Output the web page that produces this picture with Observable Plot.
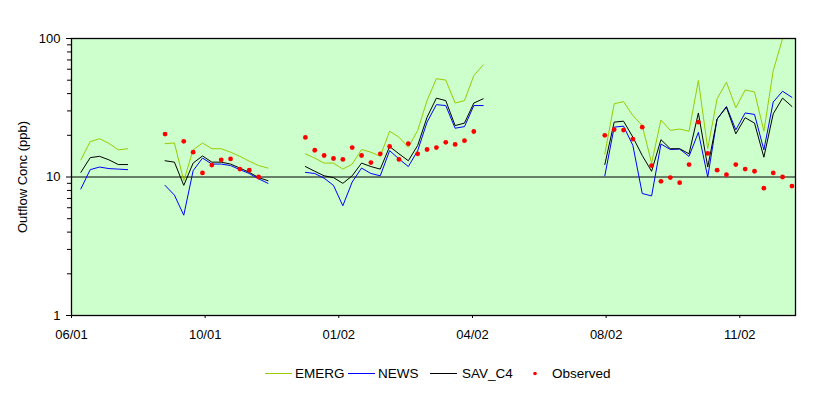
<!DOCTYPE html>
<html>
<head>
<meta charset="utf-8">
<script src="https://cdn.jsdelivr.net/npm/d3@7"></script>
<script src="https://cdn.jsdelivr.net/npm/@observablehq/plot@0.6"></script>
<style>
  html, body { margin: 0; padding: 0; background: #fff; }
  body { width: 829px; height: 396px; position: relative; font-family: "Liberation Sans", Arial, sans-serif; }
  #legend { position: absolute; left: 0; top: 364px; width: 829px; height: 20px; font-size: 13.5px; color: #000; }
  #legend .sw { position: absolute; top: 0; }
  #legend .tx { position: absolute; top: 1px; line-height: 18px; white-space: nowrap; }
</style>
</head>
<body>
<div id="chart"></div>
<div id="legend"></div>
<script>
// ---- data (x = week number, y = ppb) ----
const seriesNames = ["EMERG", "NEWS", "SAV_C4"];
const seriesColors = ["#99cc00", "#0000ff", "#000000"];
const observedColor = "#ff0000";

const tickDays = [0, 100, 200, 300, 400, 500];
const tickLabels = ["06/01", "10/01", "01/02", "04/02", "08/02", "11/02"];
const yTicks = [1, 10, 100];
const yMinorTicks = [2, 3, 4, 5, 6, 7, 8, 9, 20, 30, 40, 50, 60, 70, 80, 90];

const weeks1 = [1, 2, 3, 4, 5, 6];
const emerg1 = [13.3, 18.0, 18.9, 17.5, 15.7, 16.0];
const news1  = [8.2, 11.3, 11.8, 11.5, 11.4, 11.3];
const sav1   = [10.8, 13.8, 14.1, 13.3, 12.3, 12.3];

const weeks2 = [10, 11, 12, 13, 14, 15, 16, 17, 18, 19, 20, 21];
const emerg2 = [17.4, 17.6, 9.4, 15.7, 17.6, 16.0, 16.0, 15.1, 14.1, 13.0, 12.1, 11.6];
const news2  = [8.7, 7.4, 5.3, 11.1, 13.7, 12.4, 12.4, 12.1, 11.3, 10.6, 9.7, 9.0];
const sav2   = [13.1, 12.8, 8.7, 12.6, 14.2, 12.8, 12.8, 12.4, 11.6, 10.8, 9.9, 9.4];

const weeks3 = [25, 26, 27, 28, 29, 30, 31, 32, 33, 34, 35, 36, 37, 38, 39, 40, 41, 42, 43, 44];
const emerg3 = [14.7, 13.7, 12.6, 12.6, 11.4, 12.4, 15.8, 15.1, 14.1, 21.4, 19.4, 16.4, 21.7, 35.6, 51.3, 50.1, 34.2, 35.6, 54.0, 64.5];
const news3  = [10.8, 10.6, 9.8, 8.7, 6.2, 9.2, 11.6, 10.6, 10.2, 15.5, 13.5, 11.9, 15.5, 24.9, 33.3, 32.8, 22.5, 23.1, 32.8, 32.8];
const sav3   = [11.9, 11.0, 10.2, 9.9, 9.0, 10.2, 12.6, 11.9, 11.4, 16.6, 14.7, 13.1, 16.9, 27.0, 37.1, 35.6, 23.5, 24.5, 34.2, 36.7];

const weeks4 = [57, 58, 59, 60, 61, 62, 63, 64, 65, 66, 67, 68, 69, 70, 71, 72, 73, 74, 75, 76, 77];
const emerg4 = [14.7, 33.8, 35.0, 27.8, 23.5, 12.6, 25.8, 21.7, 22.2, 21.4, 49.7, 16.0, 36.7, 48.3, 31.6, 42.5, 41.1, 21.4, 58.6, 100, 100];
const news4  = [10.2, 22.9, 23.3, 16.9, 7.6, 7.3, 17.3, 15.8, 15.9, 14.1, 21.0, 10.0, 26.2, 32.3, 21.9, 29.0, 28.3, 15.7, 34.8, 41.6, 37.6];
const sav4   = [12.3, 24.9, 25.3, 19.4, 14.3, 11.0, 18.6, 16.0, 16.0, 14.7, 29.0, 11.8, 26.2, 31.9, 20.5, 26.8, 24.5, 13.9, 28.6, 37.1, 32.3];

const obsWeeks = [10, 12, 13, 14, 15, 16, 17, 18, 19, 20,
  25, 26, 27, 28, 29, 30, 31, 32, 33, 34, 35, 36, 37, 38, 39, 40, 41, 42, 43,
  57, 58, 59, 60, 61, 62, 63, 64, 65, 66, 67, 68, 69, 70, 71, 72, 73, 74, 75, 76, 77];
const obsValues = [20.4, 18.1, 15.1, 10.7, 12.2, 13.3, 13.5, 11.4, 11.2, 10.0,
  19.3, 15.6, 14.3, 13.6, 13.4, 16.3, 14.3, 12.7, 14.7, 16.6, 13.4, 17.4, 14.7, 15.8, 16.3, 17.8, 17.2, 18.3, 21.3,
  20.0, 22.0, 21.8, 18.8, 22.9, 12.1, 9.3, 9.9, 9.1, 12.3, 24.9, 14.8, 11.2, 10.4, 12.3, 11.4, 11.0, 8.3, 10.7, 10.0, 8.6];

const xEndWeek = 77.38;

// ---- build tables ----
const segments = [
  {weeks: weeks1, EMERG: emerg1, NEWS: news1, SAV_C4: sav1},
  {weeks: weeks2, EMERG: emerg2, NEWS: news2, SAV_C4: sav2},
  {weeks: weeks3, EMERG: emerg3, NEWS: news3, SAV_C4: sav3},
  {weeks: weeks4, EMERG: emerg4, NEWS: news4, SAV_C4: sav4}
];
const lineData = [];
segments.forEach((s, si) => {
  seriesNames.forEach(name => {
    s.weeks.forEach((w, i) => lineData.push({week: w, value: s[name][i], series: name, key: name + "-" + si}));
  });
});
const obsData = obsWeeks.map((w, i) => ({week: w, value: obsValues[i]}));
const xTicks = tickDays.map(d => d / 7);

const font = "'Liberation Sans', Arial, sans-serif";

const chart = Plot.plot({
  width: 829,
  height: 350,
  marginLeft: 71,
  marginRight: 34,
  marginTop: 38,
  marginBottom: 35,
  style: {fontFamily: font, fontSize: "13px", color: "#000", background: "transparent"},
  x: {type: "linear", domain: [0, xEndWeek]},
  y: {type: "log", domain: [1, 100]},
  color: {domain: seriesNames, range: seriesColors},
  marks: [
    Plot.frame({fill: "#ccffcc", stroke: null}),
    Plot.ruleY([10], {stroke: "#000", strokeWidth: 1}),
    Plot.line(lineData, {x: "week", y: "value", z: "key", stroke: "series", strokeWidth: 1, clip: true}),
    Plot.dot(obsData, {x: "week", y: "value", r: 2.4, fill: observedColor, stroke: null}),
    Plot.frame({stroke: "#000", strokeWidth: 1.3}),
    Plot.axisY(yTicks, {tickSize: 5, tickPadding: 6, tickFormat: d => String(d), fontSize: 13, label: "Outflow Conc (ppb)", labelAnchor: "center", labelArrow: "none", labelOffset: 54}),
    Plot.axisY(yMinorTicks, {tickSize: 4, tickFormat: () => "", label: null}),
    Plot.axisX(xTicks, {tickSize: 3, tickPadding: 11, tickFormat: (d, i) => tickLabels[i], fontSize: 13, label: null})
  ]
});
document.getElementById("chart").appendChild(chart);

// ---- legend ----
const legend = document.getElementById("legend");
const legendSwatchX = [265, 348, 430];
const legendTextX = [295, 378, 462];
seriesNames.forEach((name, i) => {
  const sw = document.createElement("div");
  sw.className = "sw";
  sw.style.left = legendSwatchX[i] + "px";
  sw.innerHTML = `<svg width="27" height="20"><line x1="0" x2="27" y1="9.5" y2="9.5" stroke="${seriesColors[i]}" stroke-width="1"/></svg>`;
  legend.appendChild(sw);
  const tx = document.createElement("div");
  tx.className = "tx";
  tx.style.left = legendTextX[i] + "px";
  tx.textContent = name;
  legend.appendChild(tx);
});
const dotSw = document.createElement("div");
dotSw.className = "sw";
dotSw.style.left = "530px";
dotSw.innerHTML = `<svg width="10" height="20"><circle cx="5" cy="9.5" r="1.8" fill="${observedColor}"/></svg>`;
legend.appendChild(dotSw);
const obsTx = document.createElement("div");
obsTx.className = "tx";
obsTx.style.left = "552px";
obsTx.textContent = "Observed";
legend.appendChild(obsTx);
</script>
</body>
</html>
